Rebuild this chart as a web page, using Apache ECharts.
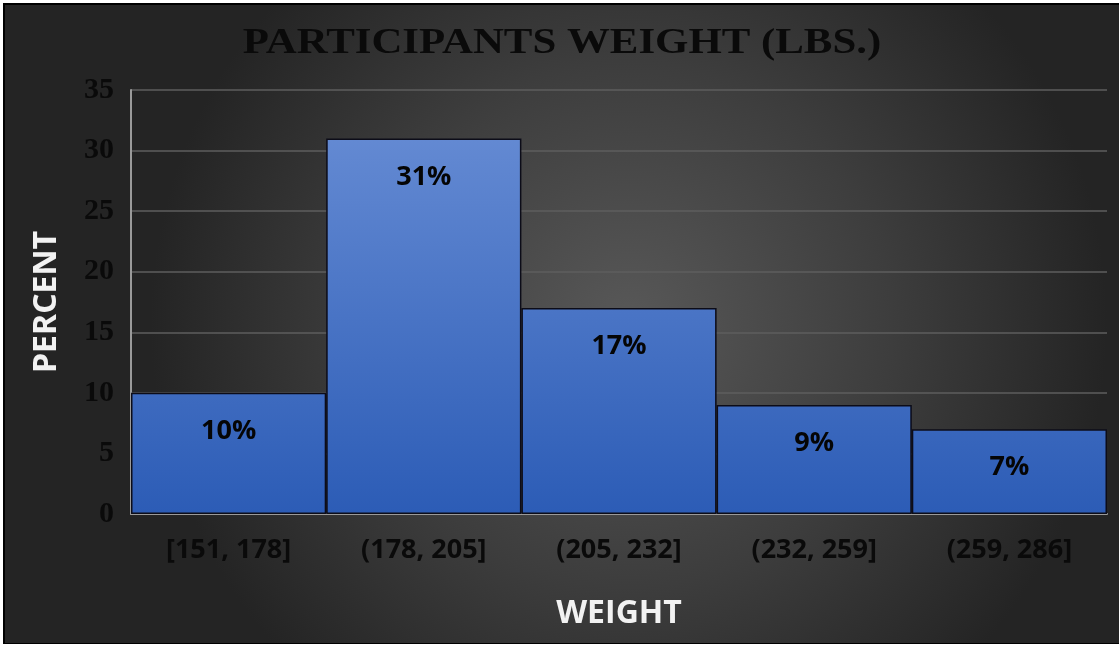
<!DOCTYPE html>
<html>
<head>
<meta charset="utf-8">
<script src="https://cdn.jsdelivr.net/npm/echarts@6/dist/echarts.min.js"></script>
<style>
  html, body { margin: 0; padding: 0; background: #ffffff; width: 1119px; height: 647px; overflow: hidden; }
  #frame { position: absolute; left: 3px; top: 3px; width: 1116px; height: 641px; border-left: 2px solid #000; border-top: 2px solid #000; border-bottom: 1px solid #000; box-sizing: border-box; }
  #chart { position: absolute; left: 5px; top: 5px; width: 1114px; height: 638px; }
</style>
</head>
<body>
<div id="frame"></div>
<div id="chart"></div>
<script>
// Weight bins and the share of participants in each
const categories = ['[151, 178]', '(178, 205]', '(205, 232]', '(232, 259]', '(259, 286]'];
const percentValues = [10, 31, 17, 9, 7];
const yTicks = { min: 0, max: 35, interval: 5 };

const chart = echarts.init(document.getElementById('chart'), null, { renderer: 'canvas' });

const gridTop = 85, gridBottom = 129;
const chartH = 638;

chart.setOption({
  backgroundColor: new echarts.graphic.RadialGradient(0.56, 0.5, 0.75, [
    { offset: 0, color: '#585858' },
    { offset: 0.55, color: '#3d3d3d' },
    { offset: 1, color: '#242424' }
  ]),
  animation: false,
  graphic: [{
    type: 'text',
    left: 'center',
    top: 21,
    scaleX: 1.19,
    originX: 560,
    style: {
      text: 'PARTICIPANTS WEIGHT (LBS.)',
      font: 'bold 36px "Liberation Serif", "Times New Roman", serif',
      fill: '#0a0a0a',
      shadowColor: 'rgba(0,0,0,0.6)',
      shadowBlur: 6,
      shadowOffsetX: 2,
      shadowOffsetY: 3
    }
  }],
  grid: { left: 126, right: 12, top: gridTop, bottom: gridBottom },
  xAxis: {
    type: 'category',
    data: categories,
    name: 'WEIGHT',
    nameLocation: 'middle',
    nameGap: 100,
    nameTextStyle: { color: '#f2f2f2', fontFamily: 'Open Sans', fontWeight: 'bold', fontSize: 32, verticalAlign: 'middle' },
    axisLine: { show: true, lineStyle: { color: '#9a9a9a', width: 2 } },
    axisTick: { show: false },
    axisLabel: { color: '#0a0a0a', fontFamily: 'Open Sans', fontWeight: 'bold', fontSize: 27, margin: 23 }
  },
  yAxis: {
    type: 'value',
    min: yTicks.min,
    max: yTicks.max,
    interval: yTicks.interval,
    name: 'PERCENT',
    nameLocation: 'middle',
    nameGap: 84,
    nameRotate: 90,
    nameTextStyle: { color: '#f2f2f2', fontFamily: 'Open Sans', fontWeight: 'bold', fontSize: 32, verticalAlign: 'middle' },
    axisLine: { show: true, lineStyle: { color: '#9a9a9a', width: 2 } },
    axisTick: { show: false },
    axisLabel: { color: '#0a0a0a', fontFamily: '"Liberation Serif", serif', fontWeight: 'bold', fontSize: 30, margin: 17 },
    splitLine: { show: true, lineStyle: { color: '#5e5e5e', width: 1.5 } }
  },
  series: [{
    type: 'bar',
    data: percentValues,
    barCategoryGap: '0%',
    itemStyle: {
      color: new echarts.graphic.LinearGradient(0, gridTop, 0, chartH - gridBottom, [
        { offset: 0, color: '#6a8fd6' },
        { offset: 1, color: '#2c5cb6' }
      ], true),
      borderColor: '#0c0c18',
      borderWidth: 1.5
    },
    label: {
      show: true,
      position: 'insideTop',
      distance: 25,
      formatter: '{c}%',
      color: '#050505',
      fontFamily: 'Open Sans',
      fontWeight: 'bold',
      fontSize: 27
    }
  }]
});
</script>
</body>
</html>
